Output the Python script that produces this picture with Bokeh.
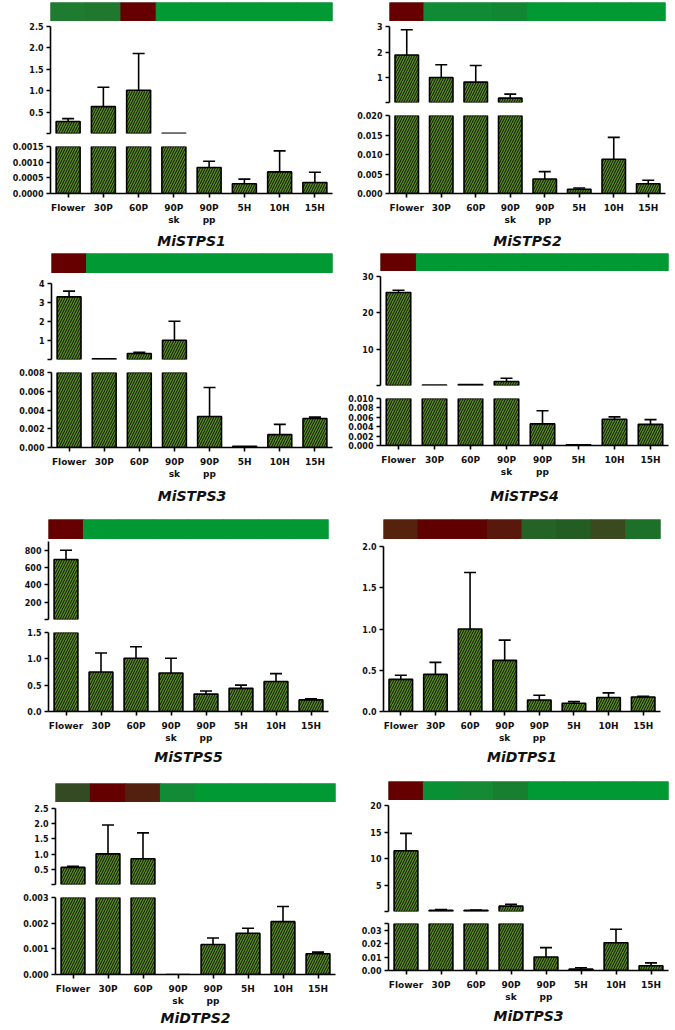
from bokeh.plotting import figure
from bokeh.layouts import column, row
from bokeh.models import Range1d, FactorRange, FixedTicker, NumeralTickFormatter
from bokeh.embed import file_html
from bokeh.resources import INLINE

categories = ["Flower", "30P", "60P", "90P\nsk", "90P\npp", "5H", "10H", "15H"]

GREEN = "#009933"
RED = "#660000"

# ---- MiSTPS1
MiSTPS1_mean = [0.28, 0.63, 1.01, 0.005, 0.00083, 0.00031, 0.00069, 0.00035]
MiSTPS1_err = [0.07, 0.45, 0.86, 0.0, 0.00020, 0.00015, 0.00067, 0.00033]
MiSTPS1_heat = ["#1e7b2f", "#20772e", RED, GREEN, GREEN, GREEN, GREEN, GREEN]
MiSTPS1_upper_range = [0.0015, 2.5]
MiSTPS1_upper_ticks = [0.0015, 0.5, 1.0, 1.5, 2.0, 2.5]
MiSTPS1_lower_range = [0, 0.0015]
MiSTPS1_lower_ticks = [0, 0.0005, 0.0010, 0.0015]

# ---- MiSTPS2
MiSTPS2_mean = [1.88, 1.0, 0.82, 0.19, 0.0037, 0.0011, 0.0088, 0.0025]
MiSTPS2_err = [0.99, 0.5, 0.65, 0.16, 0.0019, 0.0003, 0.0056, 0.0009]
MiSTPS2_heat = [RED, "#108a35", "#108a35", "#128733", GREEN, GREEN, GREEN, GREEN]
MiSTPS2_upper_range = [0.02, 3]
MiSTPS2_upper_ticks = [0.02, 1, 2, 3]
MiSTPS2_lower_range = [0, 0.02]
MiSTPS2_lower_ticks = [0, 0.005, 0.010, 0.015, 0.020]

# ---- MiSTPS3
MiSTPS3_mean = [3.3, 0.04, 0.32, 1.02, 0.0033, 0.00014, 0.00137, 0.0031]
MiSTPS3_err = [0.3, 0.0, 0.07, 1.0, 0.0031, 0.0, 0.0011, 0.00014]
MiSTPS3_heat = [RED, GREEN, GREEN, GREEN, GREEN, GREEN, GREEN, GREEN]
MiSTPS3_upper_range = [0.008, 4]
MiSTPS3_upper_ticks = [0.008, 1, 2, 3, 4]
MiSTPS3_lower_range = [0, 0.008]
MiSTPS3_lower_ticks = [0, 0.002, 0.004, 0.006, 0.008]

# ---- MiSTPS4
MiSTPS4_mean = [25.6, 0.1, 0.27, 1.1, 0.0046, 0.00014, 0.0056, 0.0045]
MiSTPS4_err = [0.6, 0.0, 0.0, 0.9, 0.0028, 0.0, 0.0005, 0.001]
MiSTPS4_heat = [RED, GREEN, GREEN, GREEN, GREEN, GREEN, GREEN, GREEN]
MiSTPS4_upper_range = [0.01, 30]
MiSTPS4_upper_ticks = [0.01, 10, 20, 30]
MiSTPS4_lower_range = [0, 0.01]
MiSTPS4_lower_ticks = [0, 0.002, 0.004, 0.006, 0.008, 0.010]

# ---- MiSTPS5
MiSTPS5_mean = [692, 0.75, 1.01, 0.73, 0.33, 0.44, 0.57, 0.22]
MiSTPS5_err = [108, 0.36, 0.22, 0.28, 0.06, 0.06, 0.15, 0.02]
MiSTPS5_heat = [RED, GREEN, GREEN, GREEN, GREEN, GREEN, GREEN, GREEN]
MiSTPS5_upper_range = [1.5, 900]
MiSTPS5_upper_ticks = [1.5, 200, 400, 600, 800]
MiSTPS5_lower_range = [0, 1.5]
MiSTPS5_lower_ticks = [0, 0.5, 1.0, 1.5]

# ---- MiDTPS1 (single axis)
MiDTPS1_mean = [0.39, 0.45, 1.0, 0.62, 0.14, 0.10, 0.17, 0.175]
MiDTPS1_err = [0.05, 0.145, 0.685, 0.245, 0.057, 0.02, 0.056, 0.008]
MiDTPS1_heat = ["#55220e", "#600000", "#600000", "#58180c", "#246226", "#245d24", "#3a4a1e", "#1d7029"]
MiDTPS1_range = [0, 2]
MiDTPS1_ticks = [0, 0.5, 1.0, 1.5, 2.0]

# ---- MiDTPS2
MiDTPS2_mean = [0.565, 1.01, 0.85, 0.0, 0.00117, 0.00161, 0.00206, 0.00081]
MiDTPS2_err = [0.035, 0.95, 0.85, 0.0, 0.00025, 0.00019, 0.00059, 0.00006]
MiDTPS2_heat = ["#344a22", "#640000", "#53200f", "#138a35", GREEN, GREEN, GREEN, GREEN]
MiDTPS2_upper_range = [0.003, 2.5]
MiDTPS2_upper_ticks = [0.003, 0.5, 1.0, 1.5, 2.0, 2.5]
MiDTPS2_lower_range = [0, 0.003]
MiDTPS2_lower_ticks = [0, 0.001, 0.002, 0.003]

# ---- MiDTPS3
MiDTPS3_mean = [11.47, 0.24, 0.24, 1.04, 0.010, 0.001, 0.0207, 0.0035]
MiDTPS3_err = [3.28, 0.15, 0.06, 0.36, 0.007, 0.001, 0.010, 0.0022]
MiDTPS3_heat = [RED, "#0a9034", "#138a33", "#197f30", GREEN, GREEN, GREEN, GREEN]
MiDTPS3_upper_range = [0.035, 20]
MiDTPS3_upper_ticks = [0.035, 5, 10, 15, 20]
MiDTPS3_lower_range = [0, 0.035]
MiDTPS3_lower_ticks = [0, 0.01, 0.02, 0.03, 0.035]
MiDTPS3_lower_unlabeled = [0.035]

GENES = {
    "MiSTPS1": dict(mean=MiSTPS1_mean, err=MiSTPS1_err, heat=MiSTPS1_heat,
                    upper=(MiSTPS1_upper_range, MiSTPS1_upper_ticks, "0.0"),
                    lower=(MiSTPS1_lower_range, MiSTPS1_lower_ticks, "0.0000"), unl=[]),
    "MiSTPS2": dict(mean=MiSTPS2_mean, err=MiSTPS2_err, heat=MiSTPS2_heat,
                    upper=(MiSTPS2_upper_range, MiSTPS2_upper_ticks, "0"),
                    lower=(MiSTPS2_lower_range, MiSTPS2_lower_ticks, "0.000"), unl=[]),
    "MiSTPS3": dict(mean=MiSTPS3_mean, err=MiSTPS3_err, heat=MiSTPS3_heat,
                    upper=(MiSTPS3_upper_range, MiSTPS3_upper_ticks, "0"),
                    lower=(MiSTPS3_lower_range, MiSTPS3_lower_ticks, "0.000"), unl=[]),
    "MiSTPS4": dict(mean=MiSTPS4_mean, err=MiSTPS4_err, heat=MiSTPS4_heat,
                    upper=(MiSTPS4_upper_range, MiSTPS4_upper_ticks, "0"),
                    lower=(MiSTPS4_lower_range, MiSTPS4_lower_ticks, "0.000"), unl=[]),
    "MiSTPS5": dict(mean=MiSTPS5_mean, err=MiSTPS5_err, heat=MiSTPS5_heat,
                    upper=(MiSTPS5_upper_range, MiSTPS5_upper_ticks, "0"),
                    lower=(MiSTPS5_lower_range, MiSTPS5_lower_ticks, "0.0"), unl=[]),
    "MiDTPS1": dict(mean=MiDTPS1_mean, err=MiDTPS1_err, heat=MiDTPS1_heat,
                    upper=None,
                    lower=(MiDTPS1_range, MiDTPS1_ticks, "0.0"), unl=[]),
    "MiDTPS2": dict(mean=MiDTPS2_mean, err=MiDTPS2_err, heat=MiDTPS2_heat,
                    upper=(MiDTPS2_upper_range, MiDTPS2_upper_ticks, "0.0"),
                    lower=(MiDTPS2_lower_range, MiDTPS2_lower_ticks, "0.000"), unl=[]),
    "MiDTPS3": dict(mean=MiDTPS3_mean, err=MiDTPS3_err, heat=MiDTPS3_heat,
                    upper=(MiDTPS3_upper_range, MiDTPS3_upper_ticks, "0"),
                    lower=(MiDTPS3_lower_range, MiDTPS3_lower_ticks, "0.00"), unl=MiDTPS3_lower_unlabeled),
}

# ---- layout (page pixel positions)
COLS = [(0, 337), (337, 338)]
LAYOUT = [
    dict(gene="MiSTPS1", col=0, ax=(43, 332), heat=(50, 333), rows=(0, 252), hy=(2, 21), upper=(26, 133), lower=(146, 193), sd=5),
    dict(gene="MiSTPS2", col=1, ax=(378, 665), heat=(389, 672), rows=(0, 252), hy=(2, 21), upper=(26, 102), lower=(115, 193), sd=5),
    dict(gene="MiSTPS3", col=0, ax=(43, 332), heat=(51, 333), rows=(252, 516), hy=(253, 273), upper=(283, 359), lower=(372, 447), sd=6),
    dict(gene="MiSTPS4", col=1, ax=(377, 668), heat=(380, 672), rows=(252, 516), hy=(253, 271), upper=(276, 385), lower=(398, 445), sd=8),
    dict(gene="MiSTPS5", col=0, ax=(44, 328), heat=(48, 333), rows=(516, 778), hy=(519, 539), upper=(541, 619), lower=(632, 711), sd=3),
    dict(gene="MiDTPS1", col=1, ax=(369, 660), heat=(383, 666), rows=(516, 778), hy=(519, 539), upper=None, lower=(546, 711), sd=3),
    dict(gene="MiDTPS2", col=0, ax=(47, 335), heat=(55, 338), rows=(778, 1029), hy=(783, 802), upper=(808, 884), lower=(897, 974), sd=1),
    dict(gene="MiDTPS3", col=1, ax=(379, 668), heat=(388, 672), rows=(778, 1029), hy=(781, 800), upper=(805, 911), lower=(923, 970), sd=3),
]

BAR_FILL = "#548a1f"
FONT = "DejaVu Sans"


def base_fig(width, height, bl, br, bt, bb, y_range, xaxis):
    p = figure(width=width, height=height, x_range=FactorRange(factors=categories),
               y_range=Range1d(*y_range), output_backend="svg", toolbar_location=None, tools="",
               min_border_left=bl, min_border_right=br, min_border_top=bt, min_border_bottom=bb,
               x_axis_location="below" if xaxis else None)
    p.outline_line_color = None
    p.xgrid.visible = False
    p.ygrid.visible = False
    p.background_fill_color = "white"
    p.border_fill_color = "white"
    return p


def heat_fig(width, height, bl, br, bt, colors):
    p = figure(width=width, height=height, x_range=FactorRange(factors=categories),
               y_range=Range1d(0, 1), output_backend="svg", toolbar_location=None, tools="",
               min_border_left=bl, min_border_right=br, min_border_top=bt, min_border_bottom=0,
               x_axis_location=None, y_axis_location=None)
    p.xgrid.visible = False
    p.ygrid.visible = False
    p.vbar(x=categories, top=1, bottom=0, width=1, fill_color=colors, line_color=colors, line_width=1.2)
    p.outline_line_color = "#b9c9b9"
    p.outline_line_width = 1
    return p


def style_y(p, ticks, fmt, unlabeled):
    ax = p.yaxis[0]
    ax.ticker = FixedTicker(ticks=ticks, minor_ticks=[])
    ax.formatter = NumeralTickFormatter(format=fmt)
    if unlabeled:
        ax.major_label_overrides = {float(v): "" for v in unlabeled}
    ax.axis_line_width = 1.6
    ax.major_tick_line_width = 1.6
    ax.major_tick_out = 4
    ax.major_tick_in = 0
    ax.minor_tick_out = 0
    ax.minor_tick_in = 0
    ax.major_label_text_font = FONT
    ax.major_label_text_font_style = "bold"
    ax.major_label_text_font_size = "8px"
    ax.major_label_text_color = "#111111"
    ax.major_label_standoff = 3


def style_x(p, title, sd):
    ax = p.xaxis[0]
    ax.axis_line_width = 1.6
    ax.major_tick_line_width = 1.6
    ax.major_tick_out = 4
    ax.major_tick_in = 0
    ax.major_label_text_font = FONT
    ax.major_label_text_font_style = "bold"
    ax.major_label_text_font_size = "9px"
    ax.major_label_text_color = "#111111"
    ax.major_label_standoff = 5
    ax.axis_label = title
    ax.axis_label_text_font = FONT
    ax.axis_label_text_font_style = "bold italic"
    ax.axis_label_text_font_size = "14px"
    ax.axis_label_text_color = "#111111"
    ax.axis_label_standoff = sd


def draw_bars(p, mean, err, lo, hi, mode):
    if mode == "upper":
        idx = [i for i, v in enumerate(mean) if v > lo]
        bottom = lo - (hi - lo)
    else:
        idx = list(range(len(mean)))
        bottom = 0
    xs = [categories[i] for i in idx]
    tops = [mean[i] for i in idx]
    p.vbar(x=xs, top=tops, bottom=bottom, width=0.68, fill_color=BAR_FILL,
           line_color="black", line_width=1.6, hatch_pattern="/", hatch_color="#111111",
           hatch_scale=5, hatch_weight=1.0)
    if mode == "upper":
        eidx = [i for i in idx if err[i] > 0]
    else:
        eidx = [i for i in idx if err[i] > 0 and mean[i] <= hi]
    ex = [categories[i] for i in eidx]
    y0 = [mean[i] for i in eidx]
    y1 = [mean[i] + err[i] for i in eidx]
    p.segment(x0=ex, y0=y0, x1=ex, y1=y1, line_color="black", line_width=1.6)
    p.scatter(x=ex, y=y1, marker="dash", size=12, line_color="black", line_width=1.6)


def build_panel(spec):
    g = GENES[spec["gene"]]
    cx0, cw = COLS[spec["col"]]
    y0, y1 = spec["rows"]
    hx0, hx1 = spec["heat"]
    hy0, hy1 = spec["hy"]
    ax0, ax1 = spec["ax"]
    bl = ax0 - cx0
    br = cx0 + cw - ax1
    figs = [heat_fig(cw, hy1 - y0, hx0 - cx0, cx0 + cw - hx1, hy0 - y0, g["heat"])]
    l0, l1 = spec["lower"]
    if spec["upper"] is not None:
        u0, u1 = spec["upper"]
        split = (u1 + l0) // 2
        urng, uticks, ufmt = g["upper"]
        pu = base_fig(cw, split - hy1, bl, br, u0 - hy1, split - u1, urng, False)
        style_y(pu, uticks, ufmt, [urng[0]])
        draw_bars(pu, g["mean"], g["err"], urng[0], urng[1], "upper")
        figs.append(pu)
        top_start = split
    else:
        top_start = hy1
    lrng, lticks, lfmt = g["lower"]
    pl = base_fig(cw, y1 - top_start, bl, br, l0 - top_start, y1 - l1, lrng, True)
    style_y(pl, lticks, lfmt, g["unl"])
    style_x(pl, spec["gene"], spec["sd"])
    draw_bars(pl, g["mean"], g["err"], lrng[0], lrng[1], "lower")
    figs.append(pl)
    return column(*figs, spacing=0)


rows_out = []
for r in range(4):
    left = build_panel(LAYOUT[2 * r])
    right = build_panel(LAYOUT[2 * r + 1])
    rows_out.append(row(left, right, spacing=0))

layout = column(*rows_out, spacing=0)

open("out.html", "w").write(file_html(layout, INLINE))
